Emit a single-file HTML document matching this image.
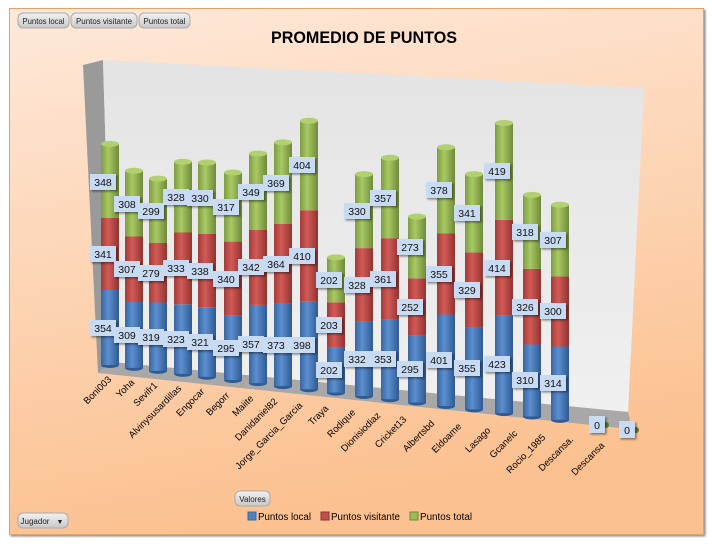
<!DOCTYPE html>
<html><head><meta charset="utf-8"><style>
html,body{margin:0;padding:0;background:#fff;width:712px;height:548px;overflow:hidden}
svg{display:block;font-family:"Liberation Sans",sans-serif}
</style></head><body>
<svg width="712" height="548" viewBox="0 0 712 548" xmlns="http://www.w3.org/2000/svg">
<defs>
<linearGradient id="bg" x1="0" y1="0" x2="0.25" y2="1"><stop offset="0" stop-color="#fee9da"/><stop offset="1" stop-color="#fcc190"/></linearGradient>
<linearGradient id="gb" x1="0" x2="1"><stop offset="0" stop-color="#3a66a0"/><stop offset="0.4" stop-color="#5b8fd0"/><stop offset="1" stop-color="#2f5a92"/></linearGradient>
<linearGradient id="gr" x1="0" x2="1"><stop offset="0" stop-color="#a23c39"/><stop offset="0.4" stop-color="#d35a56"/><stop offset="1" stop-color="#8f3431"/></linearGradient>
<linearGradient id="gg" x1="0" x2="1"><stop offset="0" stop-color="#7e9c42"/><stop offset="0.4" stop-color="#a9c964"/><stop offset="1" stop-color="#6f8a39"/></linearGradient>
<linearGradient id="wall" x1="0" y1="0" x2="0" y2="1"><stop offset="0" stop-color="#e4e4e4"/><stop offset="1" stop-color="#f0f0f0"/></linearGradient>
<linearGradient id="btn" x1="0" y1="0" x2="0" y2="1"><stop offset="0" stop-color="#f2f2f2"/><stop offset="1" stop-color="#c8c8c8"/></linearGradient>
<filter id="sh" x="-20%" y="-20%" width="150%" height="150%"><feDropShadow dx="1.5" dy="1.5" stdDeviation="1" flood-opacity="0.45"/></filter>
</defs>
<rect x="9.5" y="8.5" width="694" height="526" fill="url(#bg)" stroke="#e0a36c" filter="url(#sh)"/>
<polygon points="83,65 103,60 112,362 98,373" fill="#9a9a9a"/>
<polygon points="103,60 644,88 628,412 112,362" fill="url(#wall)"/>
<polygon points="112,362 628,412 630,420 620,428 98,373" fill="#a8a8a8"/>
<text x="364" y="43" font-size="17" font-weight="bold" text-anchor="middle" fill="#000" textLength="186" lengthAdjust="spacingAndGlyphs">PROMEDIO DE PUNTOS</text>
<g font-size="8" fill="#222" text-anchor="middle">
<rect x="18" y="13" width="51" height="15" rx="5" fill="url(#btn)" stroke="#aaa"/><text x="43.5" y="24" textLength="42" lengthAdjust="spacingAndGlyphs">Puntos local</text>
<rect x="71" y="13" width="66" height="15" rx="5" fill="url(#btn)" stroke="#aaa"/><text x="104" y="24" textLength="56" lengthAdjust="spacingAndGlyphs">Puntos visitante</text>
<rect x="139" y="13" width="51" height="15" rx="5" fill="url(#btn)" stroke="#aaa"/><text x="164.5" y="24" textLength="42" lengthAdjust="spacingAndGlyphs">Puntos total</text>
<rect x="235" y="491" width="35" height="15" rx="5" fill="url(#btn)" stroke="#aaa"/><text x="252.5" y="502">Valores</text>
<rect x="18" y="513" width="50" height="15" rx="5" fill="url(#btn)" stroke="#aaa"/><text x="35" y="524">Jugador</text>
<text x="60" y="524" font-size="7">▼</text>
</g>
<g font-size="10" fill="#000">
<rect x="248" y="512" width="8" height="8" fill="#4f81bd" stroke="#3a66a0"/><text x="258" y="520" textLength="53" lengthAdjust="spacingAndGlyphs">Puntos local</text>
<rect x="321" y="512" width="8" height="8" fill="#c0504d" stroke="#8f3431"/><text x="331" y="520" textLength="69" lengthAdjust="spacingAndGlyphs">Puntos visitante</text>
<rect x="410" y="512" width="8" height="8" fill="#9bbb59" stroke="#6f8a39"/><text x="420" y="520" textLength="52" lengthAdjust="spacingAndGlyphs">Puntos total</text>
</g>
<g id="bars">
<g transform="translate(110,0)"><ellipse cx="0" cy="365" rx="9" ry="3" fill="#2f5a92"/><rect x="-9" y="290" width="18" height="75" fill="url(#gb)"/><rect x="-9" y="217.7" width="18" height="72.3" fill="url(#gr)"/><rect x="-9" y="143.9" width="18" height="73.8" fill="url(#gg)"/><ellipse cx="0" cy="143.9" rx="9" ry="3" fill="#b2d06f"/></g>
<g transform="translate(134,0)"><ellipse cx="0" cy="367.9" rx="9" ry="3" fill="#2f5a92"/><rect x="-9" y="302" width="18" height="65.9" fill="url(#gb)"/><rect x="-9" y="236.5" width="18" height="65.5" fill="url(#gr)"/><rect x="-9" y="170.8" width="18" height="65.7" fill="url(#gg)"/><ellipse cx="0" cy="170.8" rx="9" ry="3" fill="#b2d06f"/></g>
<g transform="translate(158,0)"><ellipse cx="0" cy="370.9" rx="9" ry="3" fill="#2f5a92"/><rect x="-9" y="302.5" width="18" height="68.4" fill="url(#gb)"/><rect x="-9" y="242.7" width="18" height="59.8" fill="url(#gr)"/><rect x="-9" y="178.6" width="18" height="64.1" fill="url(#gg)"/><ellipse cx="0" cy="178.6" rx="9" ry="3" fill="#b2d06f"/></g>
<g transform="translate(183,0)"><ellipse cx="0" cy="373.9" rx="9" ry="3" fill="#2f5a92"/><rect x="-9" y="304.3" width="18" height="69.6" fill="url(#gb)"/><rect x="-9" y="232.5" width="18" height="71.8" fill="url(#gr)"/><rect x="-9" y="161.8" width="18" height="70.7" fill="url(#gg)"/><ellipse cx="0" cy="161.8" rx="9" ry="3" fill="#b2d06f"/></g>
<g transform="translate(207,0)"><ellipse cx="0" cy="376.8" rx="9" ry="3" fill="#2f5a92"/><rect x="-9" y="307.2" width="18" height="69.6" fill="url(#gb)"/><rect x="-9" y="234" width="18" height="73.2" fill="url(#gr)"/><rect x="-9" y="162.5" width="18" height="71.5" fill="url(#gg)"/><ellipse cx="0" cy="162.5" rx="9" ry="3" fill="#b2d06f"/></g>
<g transform="translate(233,0)"><ellipse cx="0" cy="380" rx="9" ry="3" fill="#2f5a92"/><rect x="-9" y="315.7" width="18" height="64.3" fill="url(#gb)"/><rect x="-9" y="241.6" width="18" height="74.1" fill="url(#gr)"/><rect x="-9" y="172.5" width="18" height="69.1" fill="url(#gg)"/><ellipse cx="0" cy="172.5" rx="9" ry="3" fill="#b2d06f"/></g>
<g transform="translate(258,0)"><ellipse cx="0" cy="383.1" rx="9" ry="3" fill="#2f5a92"/><rect x="-9" y="304.9" width="18" height="78.2" fill="url(#gb)"/><rect x="-9" y="230" width="18" height="74.9" fill="url(#gr)"/><rect x="-9" y="153.5" width="18" height="76.5" fill="url(#gg)"/><ellipse cx="0" cy="153.5" rx="9" ry="3" fill="#b2d06f"/></g>
<g transform="translate(283,0)"><ellipse cx="0" cy="386.1" rx="9" ry="3" fill="#2f5a92"/><rect x="-9" y="303.9" width="18" height="82.2" fill="url(#gb)"/><rect x="-9" y="223.7" width="18" height="80.2" fill="url(#gr)"/><rect x="-9" y="142.4" width="18" height="81.3" fill="url(#gg)"/><ellipse cx="0" cy="142.4" rx="9" ry="3" fill="#b2d06f"/></g>
<g transform="translate(309,0)"><ellipse cx="0" cy="389.3" rx="9" ry="3" fill="#2f5a92"/><rect x="-9" y="301.1" width="18" height="88.2" fill="url(#gb)"/><rect x="-9" y="210.2" width="18" height="90.9" fill="url(#gr)"/><rect x="-9" y="120.7" width="18" height="89.5" fill="url(#gg)"/><ellipse cx="0" cy="120.7" rx="9" ry="3" fill="#b2d06f"/></g>
<g transform="translate(336,0)"><ellipse cx="0" cy="392.6" rx="9" ry="3" fill="#2f5a92"/><rect x="-9" y="347.6" width="18" height="45" fill="url(#gb)"/><rect x="-9" y="302.4" width="18" height="45.2" fill="url(#gr)"/><rect x="-9" y="257.4" width="18" height="45" fill="url(#gg)"/><ellipse cx="0" cy="257.4" rx="9" ry="3" fill="#b2d06f"/></g>
<g transform="translate(364,0)"><ellipse cx="0" cy="396" rx="9" ry="3" fill="#2f5a92"/><rect x="-9" y="321.6" width="18" height="74.4" fill="url(#gb)"/><rect x="-9" y="248.1" width="18" height="73.5" fill="url(#gr)"/><rect x="-9" y="174.1" width="18" height="74" fill="url(#gg)"/><ellipse cx="0" cy="174.1" rx="9" ry="3" fill="#b2d06f"/></g>
<g transform="translate(390,0)"><ellipse cx="0" cy="399.2" rx="9" ry="3" fill="#2f5a92"/><rect x="-9" y="319.6" width="18" height="79.6" fill="url(#gb)"/><rect x="-9" y="238.2" width="18" height="81.4" fill="url(#gr)"/><rect x="-9" y="157.7" width="18" height="80.5" fill="url(#gg)"/><ellipse cx="0" cy="157.7" rx="9" ry="3" fill="#b2d06f"/></g>
<g transform="translate(417,0)"><ellipse cx="0" cy="402.5" rx="9" ry="3" fill="#2f5a92"/><rect x="-9" y="335.6" width="18" height="66.9" fill="url(#gb)"/><rect x="-9" y="278.4" width="18" height="57.2" fill="url(#gr)"/><rect x="-9" y="216.5" width="18" height="61.9" fill="url(#gg)"/><ellipse cx="0" cy="216.5" rx="9" ry="3" fill="#b2d06f"/></g>
<g transform="translate(446,0)"><ellipse cx="0" cy="406" rx="9" ry="3" fill="#2f5a92"/><rect x="-9" y="314.5" width="18" height="91.5" fill="url(#gb)"/><rect x="-9" y="233.5" width="18" height="81" fill="url(#gr)"/><rect x="-9" y="147.2" width="18" height="86.3" fill="url(#gg)"/><ellipse cx="0" cy="147.2" rx="9" ry="3" fill="#b2d06f"/></g>
<g transform="translate(474,0)"><ellipse cx="0" cy="409.4" rx="9" ry="3" fill="#2f5a92"/><rect x="-9" y="327.9" width="18" height="81.5" fill="url(#gb)"/><rect x="-9" y="252.4" width="18" height="75.5" fill="url(#gr)"/><rect x="-9" y="174.1" width="18" height="78.3" fill="url(#gg)"/><ellipse cx="0" cy="174.1" rx="9" ry="3" fill="#b2d06f"/></g>
<g transform="translate(504,0)"><ellipse cx="0" cy="413.1" rx="9" ry="3" fill="#2f5a92"/><rect x="-9" y="315.4" width="18" height="97.7" fill="url(#gb)"/><rect x="-9" y="219.8" width="18" height="95.6" fill="url(#gr)"/><rect x="-9" y="123" width="18" height="96.8" fill="url(#gg)"/><ellipse cx="0" cy="123" rx="9" ry="3" fill="#b2d06f"/></g>
<g transform="translate(532,0)"><ellipse cx="0" cy="416.5" rx="9" ry="3" fill="#2f5a92"/><rect x="-9" y="344.5" width="18" height="72" fill="url(#gb)"/><rect x="-9" y="268.8" width="18" height="75.7" fill="url(#gr)"/><rect x="-9" y="194.9" width="18" height="73.9" fill="url(#gg)"/><ellipse cx="0" cy="194.9" rx="9" ry="3" fill="#b2d06f"/></g>
<g transform="translate(560,0)"><ellipse cx="0" cy="419.9" rx="9" ry="3" fill="#2f5a92"/><rect x="-9" y="346.5" width="18" height="73.4" fill="url(#gb)"/><rect x="-9" y="276.4" width="18" height="70.1" fill="url(#gr)"/><rect x="-9" y="204.7" width="18" height="71.7" fill="url(#gg)"/><ellipse cx="0" cy="204.7" rx="9" ry="3" fill="#b2d06f"/></g>
<ellipse cx="606" cy="425" rx="3" ry="3" fill="#5a7a2a"/>
<ellipse cx="636" cy="430" rx="3" ry="3" fill="#5a7a2a"/>
</g>
<g font-size="10.5" fill="#111" text-anchor="middle">
<g filter="url(#sh)" fill="#c9daf3">
<rect x="90" y="174" width="26" height="16"/><rect x="90" y="246" width="26" height="16"/><rect x="90" y="320" width="26" height="16"/>
<rect x="114" y="196" width="26" height="16"/><rect x="114" y="261" width="26" height="16"/><rect x="114" y="327" width="26" height="16"/>
<rect x="138" y="203" width="26" height="16"/><rect x="138" y="265" width="26" height="16"/><rect x="138" y="329" width="26" height="16"/>
<rect x="163" y="189" width="26" height="16"/><rect x="163" y="260" width="26" height="16"/><rect x="163" y="331" width="26" height="16"/>
<rect x="187" y="190" width="26" height="16"/><rect x="187" y="263" width="26" height="16"/><rect x="187" y="334" width="26" height="16"/>
<rect x="213" y="199" width="26" height="16"/><rect x="213" y="271" width="26" height="16"/><rect x="213" y="340" width="26" height="16"/>
<rect x="238" y="184" width="26" height="16"/><rect x="238" y="259" width="26" height="16"/><rect x="238" y="336" width="26" height="16"/>
<rect x="263" y="175" width="26" height="16"/><rect x="263" y="256" width="26" height="16"/><rect x="263" y="337" width="26" height="16"/>
<rect x="289" y="157" width="26" height="16"/><rect x="289" y="248" width="26" height="16"/><rect x="289" y="337" width="26" height="16"/>
<rect x="316" y="272" width="26" height="16"/><rect x="316" y="317" width="26" height="16"/><rect x="316" y="362" width="26" height="16"/>
<rect x="344" y="203" width="26" height="16"/><rect x="344" y="277" width="26" height="16"/><rect x="344" y="351" width="26" height="16"/>
<rect x="370" y="190" width="26" height="16"/><rect x="370" y="271" width="26" height="16"/><rect x="370" y="351" width="26" height="16"/>
<rect x="397" y="239" width="26" height="16"/><rect x="397" y="299" width="26" height="16"/><rect x="397" y="361" width="26" height="16"/>
<rect x="426" y="182" width="26" height="16"/><rect x="426" y="266" width="26" height="16"/><rect x="426" y="352" width="26" height="16"/>
<rect x="454" y="205" width="26" height="16"/><rect x="454" y="282" width="26" height="16"/><rect x="454" y="360" width="26" height="16"/>
<rect x="484" y="163" width="26" height="16"/><rect x="484" y="260" width="26" height="16"/><rect x="484" y="356" width="26" height="16"/>
<rect x="512" y="224" width="26" height="16"/><rect x="512" y="299" width="26" height="16"/><rect x="512" y="372" width="26" height="16"/>
<rect x="540" y="232" width="26" height="16"/><rect x="540" y="303" width="26" height="16"/><rect x="540" y="375" width="26" height="16"/>
<rect x="589" y="416" width="16" height="17"/><rect x="619" y="421" width="16" height="17"/>
</g>
<text x="103" y="186">348</text><text x="103" y="258">341</text><text x="103" y="332">354</text>
<text x="127" y="208">308</text><text x="127" y="273">307</text><text x="127" y="339">309</text>
<text x="151" y="215">299</text><text x="151" y="277">279</text><text x="151" y="341">319</text>
<text x="176" y="201">328</text><text x="176" y="272">333</text><text x="176" y="343">323</text>
<text x="200" y="202">330</text><text x="200" y="275">338</text><text x="200" y="346">321</text>
<text x="226" y="211">317</text><text x="226" y="283">340</text><text x="226" y="352">295</text>
<text x="251" y="196">349</text><text x="251" y="271">342</text><text x="251" y="348">357</text>
<text x="276" y="187">369</text><text x="276" y="268">364</text><text x="276" y="349">373</text>
<text x="302" y="169">404</text><text x="302" y="260">410</text><text x="302" y="349">398</text>
<text x="329" y="284">202</text><text x="329" y="329">203</text><text x="329" y="374">202</text>
<text x="357" y="215">330</text><text x="357" y="289">328</text><text x="357" y="363">332</text>
<text x="383" y="202">357</text><text x="383" y="283">361</text><text x="383" y="363">353</text>
<text x="410" y="251">273</text><text x="410" y="311">252</text><text x="410" y="373">295</text>
<text x="439" y="194">378</text><text x="439" y="278">355</text><text x="439" y="364">401</text>
<text x="467" y="217">341</text><text x="467" y="294">329</text><text x="467" y="372">355</text>
<text x="497" y="175">419</text><text x="497" y="272">414</text><text x="497" y="368">423</text>
<text x="525" y="236">318</text><text x="525" y="311">326</text><text x="525" y="384">310</text>
<text x="553" y="244">307</text><text x="553" y="315">300</text><text x="553" y="387">314</text>
<text x="597" y="429">0</text><text x="627" y="434">0</text>
</g>
<g font-size="9.5" fill="#000" text-anchor="end">
<text transform="translate(112,380) rotate(-45)">Boni003</text>
<text transform="translate(135,383) rotate(-45)">Yoha</text>
<text transform="translate(158,386) rotate(-45)">Sevifr1</text>
<text transform="translate(182,389) rotate(-45)">Alvinysusardillas</text>
<text transform="translate(205,392) rotate(-45)">Engocar</text>
<text transform="translate(230,396) rotate(-45)">Begorr</text>
<text transform="translate(254,399) rotate(-45)">Maiite</text>
<text transform="translate(278,402) rotate(-45)">Danidaniel82</text>
<text transform="translate(303,406) rotate(-45)">Jorge_Garcia_Garcia</text>
<text transform="translate(329,409) rotate(-45)">Traya</text>
<text transform="translate(356,413) rotate(-45)">Rodique</text>
<text transform="translate(381,416) rotate(-45)">Dionisiodiaz</text>
<text transform="translate(407,420) rotate(-45)">Cricket13</text>
<text transform="translate(435,424) rotate(-45)">Albertsbd</text>
<text transform="translate(462,427) rotate(-45)">Eldoame</text>
<text transform="translate(491,431) rotate(-45)">Lasago</text>
<text transform="translate(518,434) rotate(-45)">Gcanelc</text>
<text transform="translate(546,438) rotate(-45)">Rocio_1985</text>
<text transform="translate(574,440) rotate(-45)">Descansa.</text>
<text transform="translate(605,446) rotate(-45)">Descansa</text>
</g>
</svg>
</body></html>
